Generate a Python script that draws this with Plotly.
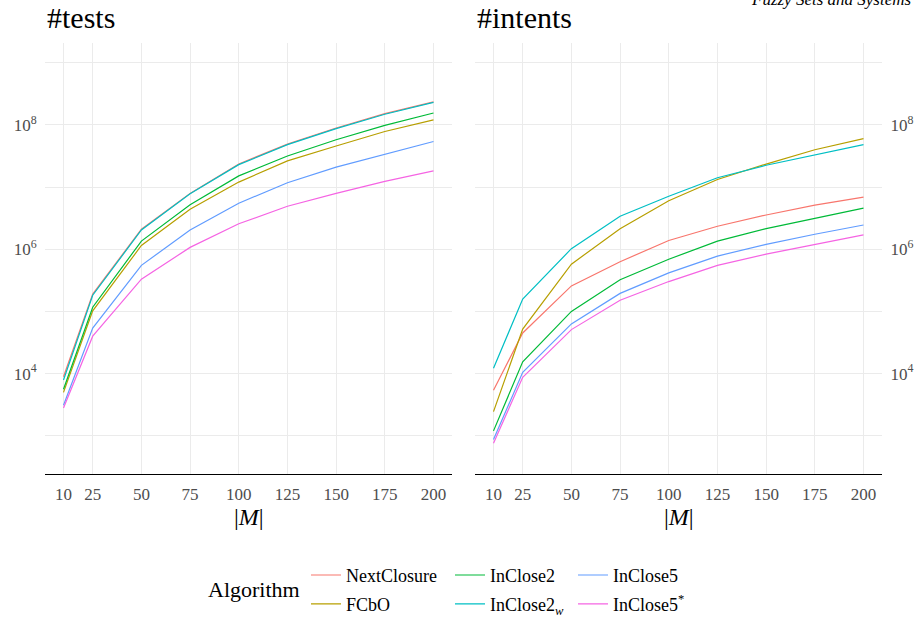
import plotly.graph_objects as go

M = [10, 25, 50, 75, 100, 125, 150, 175, 200]
x_ticks = [10, 25, 50, 75, 100, 125, 150, 175, 200]

algorithms = ["NextClosure", "FCbO", "InClose2", "InClose2w", "InClose5", "InClose5*"]
legend_labels = ["NextClosure", "FCbO", "InClose2", "InClose2<sub><i>w</i></sub>", "InClose5", "InClose5<sup>*</sup>"]
colors = ["#F8766D", "#B79F00", "#00BA38", "#00BFC4", "#619CFF", "#F564E3"]

tests_nextclosure = [8900, 190000, 2.1e6, 7.9e6, 2.35e7, 4.9e7, 8.9e7, 1.51e8, 2.34e8]
tests_fcbo = [5000, 102000, 1.15e6, 4.4e6, 1.2e7, 2.63e7, 4.57e7, 7.8e7, 1.2e8]
tests_inclose2 = [5600, 117000, 1.35e6, 5.2e6, 1.51e7, 3.16e7, 5.75e7, 9.8e7, 1.55e8]
tests_inclose2w = [7900, 182000, 2.04e6, 7.8e6, 2.29e7, 4.8e7, 8.7e7, 1.48e8, 2.29e8]
tests_inclose5 = [3100, 54000, 550000, 2.04e6, 5.5e6, 1.17e7, 2.09e7, 3.4e7, 5.4e7]
tests_inclose5s = [2800, 40000, 330000, 1.07e6, 2.57e6, 4.9e6, 7.9e6, 1.23e7, 1.82e7]

intents_nextclosure = [5400, 45000, 257000, 630000, 1.38e6, 2.34e6, 3.55e6, 5.1e6, 6.9e6]
intents_fcbo = [2450, 52000, 575000, 2.14e6, 6.0e6, 1.32e7, 2.34e7, 3.98e7, 6.0e7]
intents_inclose2 = [1200, 15500, 100000, 324000, 690000, 1.35e6, 2.14e6, 3.16e6, 4.57e6]
intents_inclose2w = [12200, 158000, 1.02e6, 3.4e6, 7.1e6, 1.41e7, 2.24e7, 3.3e7, 4.8e7]
intents_inclose5 = [870, 10500, 63000, 195000, 417000, 776000, 1.2e6, 1.74e6, 2.45e6]
intents_inclose5s = [760, 8700, 51000, 151000, 302000, 550000, 832000, 1.2e6, 1.7e6]

y_major = [1e4, 1e6, 1e8]
y_major_text = ["10<sup>4</sup>", "10<sup>6</sup>", "10<sup>8</sup>"]
y_minor = [1e3, 1e5, 1e7, 1e9]

tests = [tests_nextclosure, tests_fcbo, tests_inclose2, tests_inclose2w, tests_inclose5, tests_inclose5s]
intents = [intents_nextclosure, intents_fcbo, intents_inclose2, intents_inclose2w, intents_inclose5, intents_inclose5s]

FONT = "Liberation Serif"

# legend positions (column x, row y) in paper coordinates
leg_x = [306 / 921, 306 / 921, 450 / 921, 450 / 921, 573 / 921, 573 / 921]
leg_y = [1 - 579 / 623, 1 - 608 / 623] * 3

fig = go.Figure()
for i, name in enumerate(algorithms):
    lg = "legend" if i == 0 else f"legend{i + 1}"
    fig.add_trace(go.Scatter(x=M, y=tests[i], mode="lines", name=legend_labels[i],
                             line=dict(color=colors[i], width=1.2),
                             xaxis="x", yaxis="y", legend=lg, showlegend=True))
for i, name in enumerate(algorithms):
    lg = "legend" if i == 0 else f"legend{i + 1}"
    fig.add_trace(go.Scatter(x=M, y=intents[i], mode="lines", name=legend_labels[i],
                             line=dict(color=colors[i], width=1.2),
                             xaxis="x2", yaxis="y2", legend=lg, showlegend=False))

y_dom = [1 - 477 / 623, 1 - 43 / 623]
xaxis_common = dict(range=[0.5, 209.5], tickvals=x_ticks, ticktext=[str(v) for v in x_ticks],
                    showgrid=True, gridcolor="#EBEBEB", gridwidth=1, zeroline=False,
                    showline=True, linecolor="black", linewidth=1.2,
                    tickfont=dict(family=FONT, size=17, color="#4D4D4D"),
                    ticks="outside", ticklen=5, tickcolor="rgba(0,0,0,0)", automargin=False)
yaxis_common = dict(type="log", range=[2.387, 9.32], tickvals=y_major, ticktext=y_major_text,
                    showgrid=True, gridcolor="#EBEBEB", gridwidth=1.3, zeroline=False, showline=False,
                    minor=dict(tickvals=y_minor, showgrid=True, gridcolor="#EBEBEB", gridwidth=0.8, ticks=""),
                    tickfont=dict(family=FONT, size=17, color="#4D4D4D"),
                    ticks="outside", ticklen=4, tickcolor="rgba(0,0,0,0)", automargin=False)

layout = dict(
    width=921, height=623,
    margin=dict(l=0, r=0, t=0, b=0),
    paper_bgcolor="white", plot_bgcolor="white",
    font=dict(family=FONT, color="black"),
    xaxis=dict(domain=[45 / 921, 452 / 921], anchor="y", **xaxis_common),
    yaxis=dict(domain=y_dom, anchor="x", side="left", **yaxis_common),
    xaxis2=dict(domain=[475 / 921, 882 / 921], anchor="y2", **xaxis_common),
    yaxis2=dict(domain=y_dom, anchor="x2", side="right", **yaxis_common),
    annotations=[
        dict(text="#tests", x=45 / 921, y=1 - 18 / 623, xref="paper", yref="paper",
             xanchor="left", yanchor="middle", showarrow=False, font=dict(family=FONT, size=30)),
        dict(text="#intents", x=475 / 921, y=1 - 18 / 623, xref="paper", yref="paper",
             xanchor="left", yanchor="middle", showarrow=False, font=dict(family=FONT, size=30)),
        dict(text="|<i>M</i>|", x=(45 + 452) / 2 / 921, y=1 - 520 / 623, xref="paper", yref="paper",
             xanchor="center", yanchor="middle", showarrow=False, font=dict(family=FONT, size=24)),
        dict(text="|<i>M</i>|", x=(475 + 882) / 2 / 921, y=1 - 520 / 623, xref="paper", yref="paper",
             xanchor="center", yanchor="middle", showarrow=False, font=dict(family=FONT, size=24)),
        dict(text="Algorithm", x=206 / 921, y=1 - 593 / 623, xref="paper", yref="paper",
             xanchor="left", yanchor="middle", showarrow=False, font=dict(family=FONT, size=22)),
        dict(text="<i>Fuzzy Sets and Systems</i>", x=914 / 921, y=1 + 1 / 623, xref="paper", yref="paper",
             xanchor="right", yanchor="middle", showarrow=False, font=dict(family=FONT, size=17)),
    ],
)
for i in range(6):
    key = "legend" if i == 0 else f"legend{i + 1}"
    layout[key] = dict(x=leg_x[i], y=leg_y[i], xanchor="left", yanchor="middle",
                       orientation="v", bgcolor="rgba(0,0,0,0)", borderwidth=0,
                       font=dict(family=FONT, size=18, color="black"), itemclick=False)
fig.update_layout(**layout)
fig.write_html("out.html", config={"displayModeBar": False},
               post_script="document.body.style.margin='0';document.body.style.overflow='hidden';")
